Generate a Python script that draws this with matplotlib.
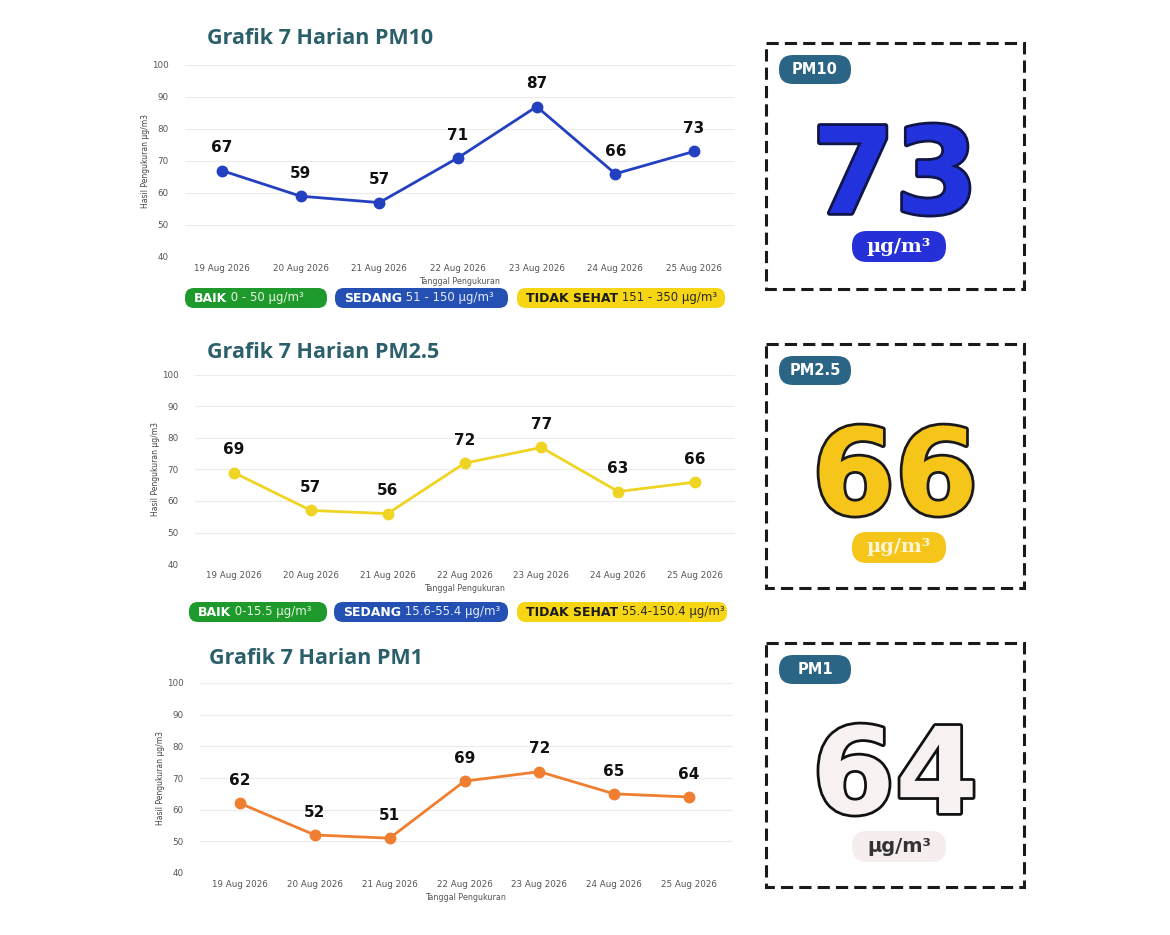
import matplotlib
matplotlib.use("Agg")
import matplotlib.pyplot as plt
from matplotlib.patches import FancyBboxPatch, Rectangle
import matplotlib.patheffects as pe

# data
tanggal = ["19 Aug 2026", "20 Aug 2026", "21 Aug 2026", "22 Aug 2026",
           "23 Aug 2026", "24 Aug 2026", "25 Aug 2026"]
pm10 = [67, 59, 57, 71, 87, 66, 73]
pm25 = [69, 57, 56, 72, 77, 63, 66]
pm1 = [62, 52, 51, 69, 72, 65, 64]

judul = ["Grafik 7 Harian PM10", "Grafik 7 Harian PM2.5", "Grafik 7 Harian PM1"]
label_pm = ["PM10", "PM2.5", "PM1"]
kategori = ["BAIK", "SEDANG", "TIDAK SEHAT"]
rentang_pm10 = ["0 - 50 µg/m³", "51 - 150 µg/m³", "151 - 350 µg/m³"]
rentang_pm25 = ["0-15.5 µg/m³", "15.6-55.4 µg/m³", "55.4-150.4 µg/m³"]

W, H = 1170, 935
fig = plt.figure(figsize=(W / 100, H / 100), dpi=100)
fig.patch.set_facecolor("white")


def kotak(x0, y0, x1, y1):
    return [x0 / W, 1 - y1 / H, (x1 - x0) / W, (y1 - y0) / H]


def grafik(nilai, warna, x0, x1, ytop, ybot, xfirst, xlast):
    ax = fig.add_axes(kotak(x0, ytop, x1, ybot))
    step = (xlast - xfirst) / 6
    ax.set_xlim((x0 - xfirst) / step, (x1 - xfirst) / step)
    ax.set_ylim(40, 100)
    x = list(range(len(tanggal)))
    ax.plot(x, nilai, color=warna, lw=2, marker="o", ms=7.5, zorder=3)
    for i, v in enumerate(nilai):
        ax.annotate(str(v), (i, v), xytext=(0, 11), textcoords="offset points",
                    ha="center", va="bottom", fontsize=11, weight="bold",
                    color="#111111")
    ax.set_xticks(x)
    ax.set_xticklabels(tanggal, fontsize=6.3, color="#555555")
    ax.set_yticks(range(40, 101, 10))
    ax.tick_params(axis="y", labelsize=6.3, labelcolor="#555555", length=0, pad=12)
    ax.tick_params(axis="x", length=0, pad=5)
    ax.grid(axis="y", color="#ececec", lw=0.8)
    ax.set_axisbelow(True)
    for s in ax.spines.values():
        s.set_visible(False)
    ax.set_ylabel("Hasil Pengukuran µg/m3", fontsize=5.5, color="#444444", labelpad=1)
    ax.set_xlabel("Tanggal Pengukuran", fontsize=5.8, color="#555555", labelpad=3)
    return ax


grafik(pm10, "#2340c0", 185, 735, 65, 257, 222, 694)
grafik(pm25, "#f0d424", 195, 735, 375, 564, 234, 695)
grafik(pm1, "#f07e30", 200, 732, 683, 873, 240, 689)

ov = fig.add_axes([0, 0, 1, 1], facecolor="none")
ov.set_xlim(0, W)
ov.set_ylim(H, 0)
ov.axis("off")

judul_y = [38, 352, 658]
judul_x = [207, 207, 209]
for t, x, y in zip(judul, judul_x, judul_y):
    ov.text(x, y, t, fontsize=15.5, weight="bold", color="#2b5f6b",
            family="Open Sans", ha="left", va="center")


def pil(x0, x1, yc, h, warna, t1, t2, c1, c2):
    ov.add_patch(FancyBboxPatch((x0, yc - h / 2), x1 - x0, h,
                                boxstyle="round,pad=0,rounding_size=9",
                                fc=warna, ec="none", zorder=5))
    a = ov.text(x0 + 9, yc, t1, fontsize=9, weight="bold", color=c1,
                ha="left", va="center", zorder=6)
    ov.annotate(" " + t2, xy=(1, 0.5), xycoords=a, fontsize=8.5, color=c2,
                ha="left", va="center", zorder=6)


warna_pil = ["#1e9a2c", "#2350b2", "#f6d514"]
teks1 = ["white", "white", "#1a1a1a"]
teks2 = ["#e8f5e0", "#e6ecff", "#2a2a2a"]
x_pm10 = [(185, 327), (335, 508), (517, 725)]
x_pm25 = [(189, 327), (334, 508), (517, 727)]
for i in range(3):
    pil(x_pm10[i][0], x_pm10[i][1], 298, 20, warna_pil[i], kategori[i],
        rentang_pm10[i], teks1[i], teks2[i])
    pil(x_pm25[i][0], x_pm25[i][1], 612, 20, warna_pil[i], kategori[i],
        rentang_pm25[i], teks1[i], teks2[i])

# kartu nilai terakhir
kartu_y = [(43, 289), (344, 588), (643, 887)]
nilai_akhir = [pm10[-1], pm25[-1], pm1[-1]]
isi = ["#2233dd", "#f6c51a", "#f8f1f1"]
garis = ["#10154a", "#1a1a1a", "#111111"]
pil_unit = ["#2530d8", "#f6c51a", "#f6eeee"]
unit_warna = ["white", "#fff6d8", "#333333"]
unit_font = ["DejaVu Serif", "DejaVu Serif", "DejaVu Sans"]
for i in range(3):
    y0, y1 = kartu_y[i]
    ov.add_patch(Rectangle((766, y0), 258, y1 - y0, fill=False, ec="#1a1a1a",
                           lw=2.2, ls=(0, (4, 2))))
    # label PM
    ov.add_patch(FancyBboxPatch((779, y0 + 12), 72, 29,
                                boxstyle="round,pad=0,rounding_size=14",
                                fc="#2b6585", ec="none"))
    ov.text(815, y0 + 26.5, label_pm[i], fontsize=10.5, weight="bold",
            color="white", ha="center", va="center")
    # angka besar
    ov.text(895, y0 + 170, str(nilai_akhir[i]), fontsize=86, weight="bold",
            style="normal", family="DejaVu Sans", color=isi[i], ha="center",
            va="baseline",
            path_effects=[pe.withStroke(linewidth=4, foreground=garis[i])])
    # satuan
    ov.add_patch(FancyBboxPatch((852, y0 + 188), 94, 31,
                                boxstyle="round,pad=0,rounding_size=15",
                                fc=pil_unit[i], ec="none"))
    ov.text(899, y0 + 203.5, "µg/m³", fontsize=14, weight="bold",
            family=unit_font[i], color=unit_warna[i], ha="center", va="center")

fig.savefig("out.png", dpi=100, facecolor="white")
